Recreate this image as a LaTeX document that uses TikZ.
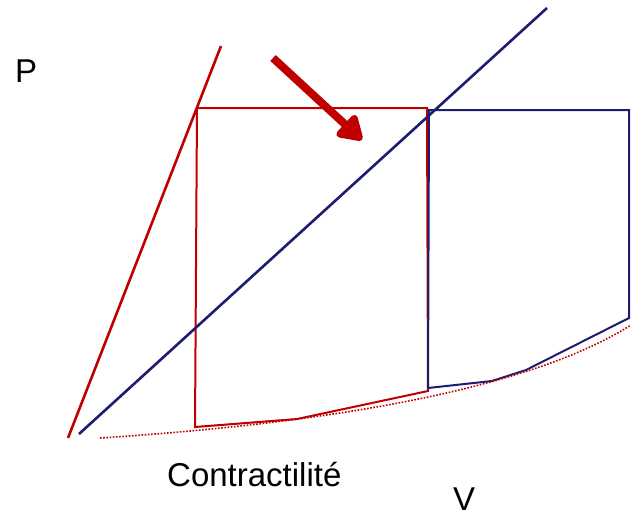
\documentclass[tikz,border=0pt]{standalone}
\usepackage{fontspec}
\setmainfont{Liberation Sans}
\usetikzlibrary{arrows.meta}
\definecolor{loopred}{RGB}{192,0,0}
\definecolor{loopblue}{RGB}{28,28,112}

\begin{document}
\begin{tikzpicture}[
  x=1pt, y=-1pt,
  axislabel/.style={inner sep=0pt, anchor=base west, font=\fontsize{33}{38}\selectfont},
  slopeline/.style={line width=2.6pt},
  loopline/.style={line width=2pt, line join=miter},
  bigarrow/.style={line width=8pt, draw=loopred,
                   -{Triangle[length=27pt, width=32pt, round]}},
]
\useasboundingbox (0,0) rectangle (631,517);

% ==================== axis labels ====================
\node[axislabel] (p) at (15,82) {P};
\node[axislabel] (v) at (453,510) {V};
\node[axislabel] (ctr) at (167,486) {Contractilité};

% ==================== end-systolic lines ====================
\coordinate (r0) at (68,438);
\coordinate (r1) at (221,46);
\coordinate (b0) at (79,434);
\coordinate (b1) at (547,8);
\draw[slopeline, loopred] (r0) -- (r1);

% ==================== red loop ====================
\draw[loopline, loopred] (197,108) -- (427,108) -- (428,391)
  -- (297,419) -- (195,427) -- cycle;

% ==================== blue loop ====================
\draw[loopline, loopblue] (428,388) -- (429,110) -- (629,110) -- (629,318)
  -- (526,370) -- (492,381) -- cycle;

% ==================== end-diastolic curve ====================
\draw[loopred, line width=1.6pt, dash pattern=on 1.6pt off 1.6pt]
  (100,438) .. controls (300,425) and (520,395) .. (631,325);

\draw[slopeline, loopblue] (b0) -- (b1);

% ==================== arrow ====================
\coordinate (a0) at (273,58);
\coordinate (a1) at (362,140);
\draw[bigarrow] (a0) -- (a1);

\end{tikzpicture}
\end{document}
